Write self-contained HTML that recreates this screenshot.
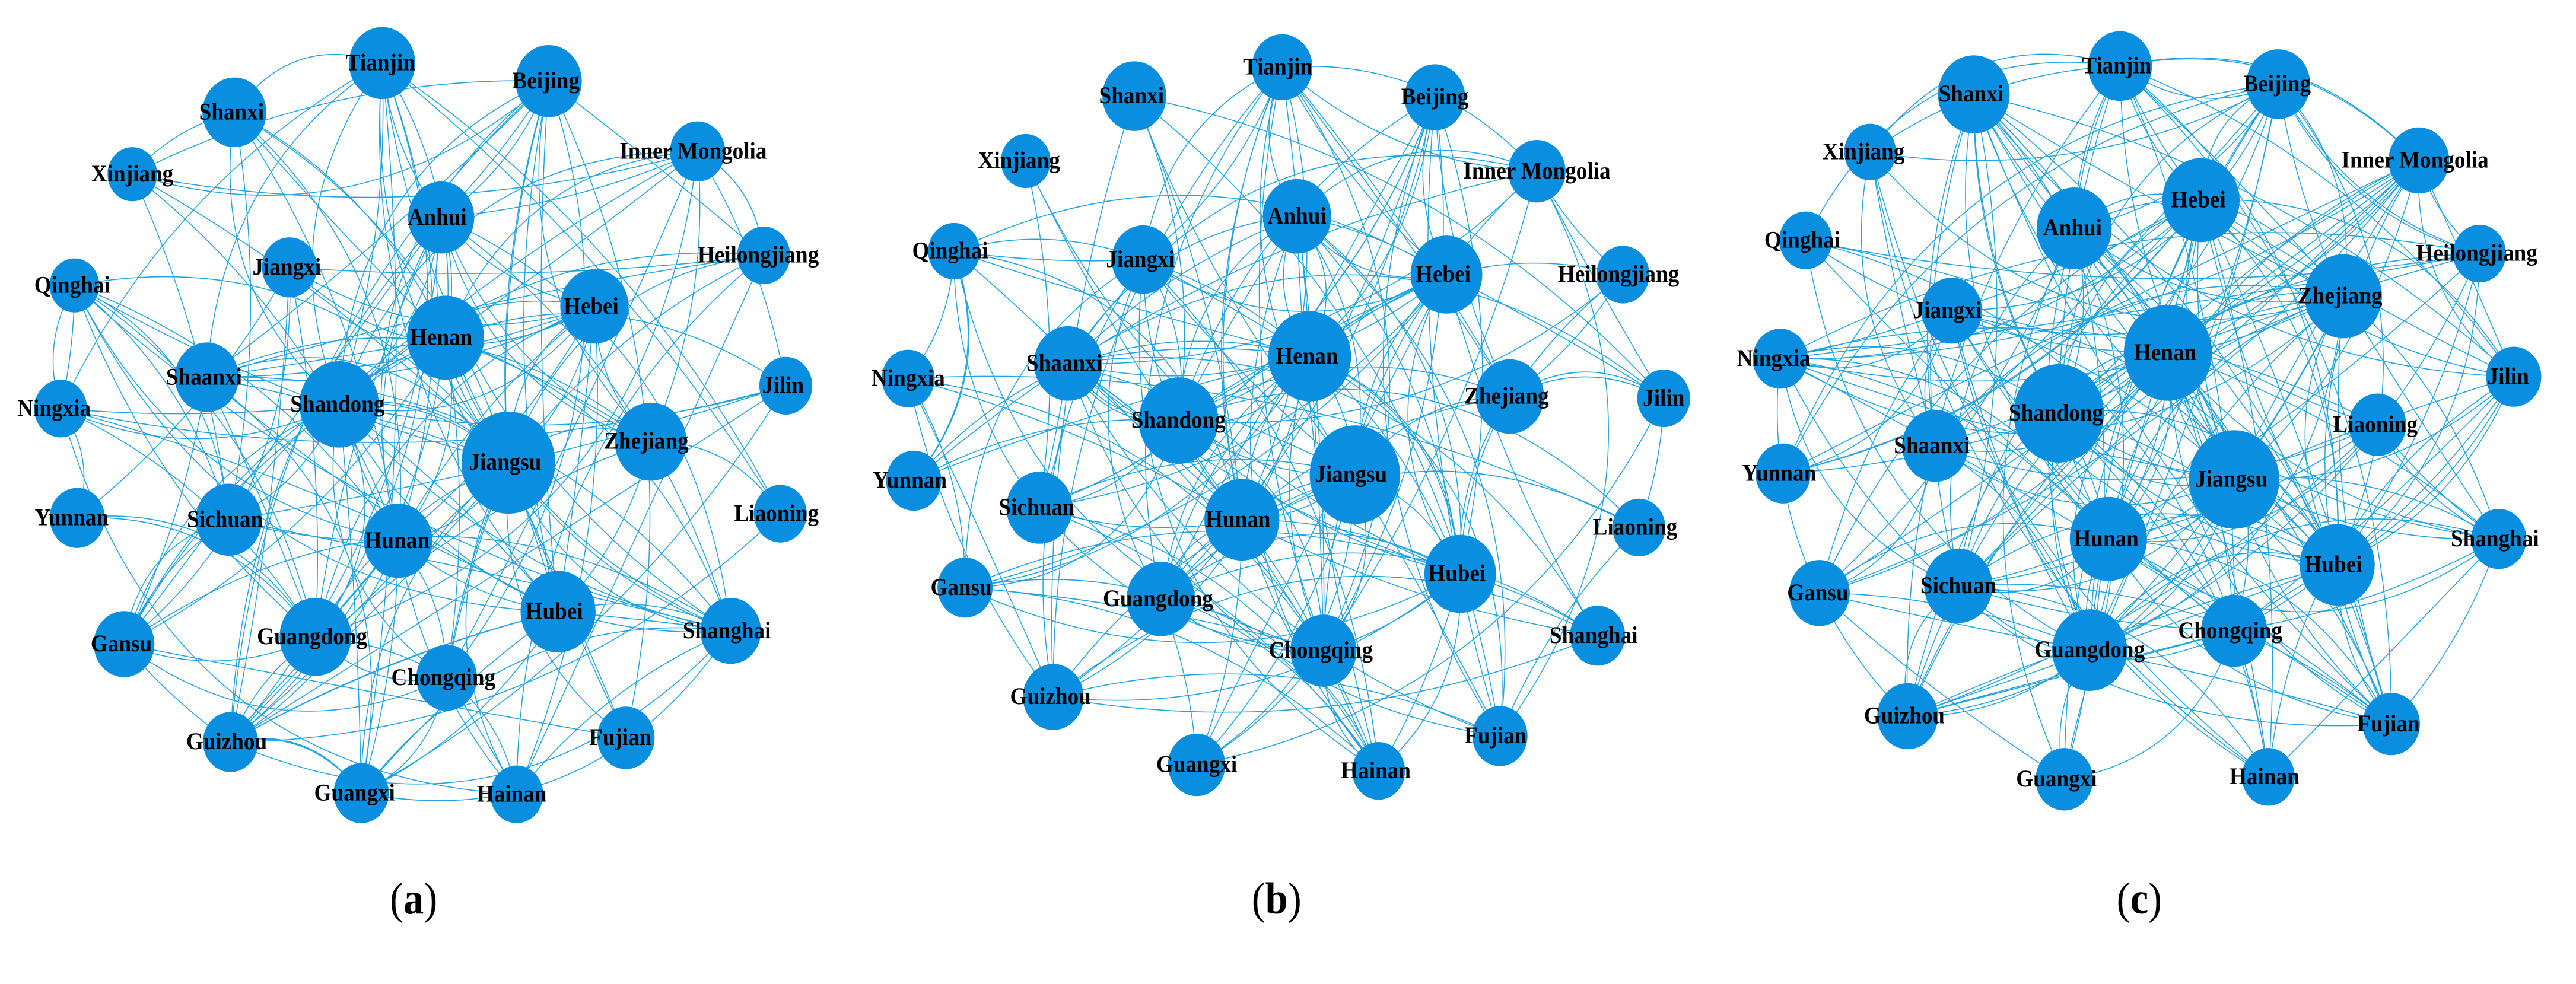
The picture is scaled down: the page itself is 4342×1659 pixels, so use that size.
<!DOCTYPE html>
<html><head><meta charset="utf-8"><style>
html,body{margin:0;padding:0;background:#fff;}
svg{display:block}
.n circle{fill:#0a8ee0}
.t text{font-family:"Liberation Serif",serif;font-weight:bold;font-size:40px;fill:#000;text-anchor:middle}
.lab{font-family:"Liberation Serif",serif;font-size:74px;fill:#000;text-anchor:middle}
.e path{fill:none;stroke:#22a4e2;stroke-width:1.6}
</style></head><body>
<svg id="s" width="4342" height="1659" viewBox="0 0 4342 1659" xmlns="http://www.w3.org/2000/svg">
<rect width="4342" height="1659" fill="#fff"/>
<!-- panel a -->
<g transform="translate(0,0) scale(0.9295,1.013)">
<g class="e" id="ea"></g>
<g class="n">
<circle cx="693" cy="105" r="60"/><circle cx="995" cy="135" r="60"/><circle cx="425" cy="187" r="58"/><circle cx="1265" cy="252" r="50"/><circle cx="240" cy="290" r="45"/><circle cx="800" cy="362" r="60"/><circle cx="1385" cy="425" r="48"/><circle cx="525" cy="445" r="50"/><circle cx="135" cy="475" r="45"/><circle cx="1078" cy="510" r="62"/><circle cx="808" cy="562" r="70"/><circle cx="375" cy="628" r="58"/><circle cx="1425" cy="642" r="48"/><circle cx="110" cy="680" r="48"/><circle cx="615" cy="673" r="72"/><circle cx="1180" cy="735" r="65"/><circle cx="922" cy="770" r="85"/><circle cx="1415" cy="855" r="48"/><circle cx="140" cy="862" r="50"/><circle cx="415" cy="865" r="60"/><circle cx="722" cy="900" r="62"/><circle cx="1012" cy="1018" r="68"/><circle cx="1325" cy="1050" r="55"/><circle cx="225" cy="1072" r="55"/><circle cx="572" cy="1060" r="65"/><circle cx="810" cy="1128" r="55"/><circle cx="418" cy="1235" r="50"/><circle cx="1135" cy="1228" r="52"/><circle cx="655" cy="1320" r="50"/><circle cx="937" cy="1322" r="48"/>
</g>
<g class="t">
<text x="690" y="117">Tianjin</text><text x="990" y="147">Beijing</text><text x="420" y="199">Shanxi</text><text x="1257" y="264">Inner Mongolia</text><text x="240" y="302">Xinjiang</text><text x="793" y="374">Anhui</text><text x="1375" y="437">Heilongjiang</text><text x="520" y="457">Jiangxi</text><text x="131" y="487">Qinghai</text><text x="1072" y="522">Hebei</text><text x="800" y="574">Henan</text><text x="370" y="640">Shaanxi</text><text x="1420" y="654">Jilin</text><text x="98" y="692">Ningxia</text><text x="612" y="685">Shandong</text><text x="1172" y="747">Zhejiang</text><text x="916" y="782">Jiangsu</text><text x="1408" y="867">Liaoning</text><text x="130" y="874">Yunnan</text><text x="408" y="877">Sichuan</text><text x="720" y="912">Hunan</text><text x="1005" y="1030">Hubei</text><text x="1318" y="1062">Shanghai</text><text x="220" y="1084">Gansu</text><text x="566" y="1072">Guangdong</text><text x="804" y="1140">Chongqing</text><text x="411" y="1247">Guizhou</text><text x="1125" y="1240">Fujian</text><text x="643" y="1332">Guangxi</text><text x="928" y="1334">Hainan</text>
</g>
<text class="lab" x="750" y="1520">(<tspan font-weight="bold">a</tspan>)</text>
</g>
<!-- panel b -->
<g transform="translate(1450,0) scale(0.9295,1.013)">
<g class="e" id="eb"></g>
<g class="n">
<circle cx="765" cy="112" r="55"/><circle cx="1042" cy="162" r="55"/><circle cx="497" cy="160" r="58"/><circle cx="1227" cy="285" r="52"/><circle cx="300" cy="268" r="45"/><circle cx="792" cy="360" r="62"/><circle cx="1383" cy="457" r="48"/><circle cx="513" cy="432" r="57"/><circle cx="170" cy="418" r="47"/><circle cx="1063" cy="457" r="65"/><circle cx="815" cy="593" r="75"/><circle cx="377" cy="605" r="62"/><circle cx="1457" cy="663" r="48"/><circle cx="87" cy="630" r="48"/><circle cx="577" cy="700" r="72"/><circle cx="1178" cy="660" r="62"/><circle cx="897" cy="790" r="82"/><circle cx="1412" cy="878" r="48"/><circle cx="97" cy="800" r="50"/><circle cx="325" cy="845" r="60"/><circle cx="692" cy="865" r="68"/><circle cx="1088" cy="955" r="65"/><circle cx="1337" cy="1058" r="50"/><circle cx="190" cy="978" r="50"/><circle cx="545" cy="997" r="62"/><circle cx="840" cy="1083" r="60"/><circle cx="350" cy="1160" r="55"/><circle cx="1160" cy="1225" r="50"/><circle cx="610" cy="1273" r="52"/><circle cx="940" cy="1283" r="48"/>
</g>
<g class="t">
<text x="757" y="124">Tianjin</text><text x="1042" y="174">Beijing</text><text x="492" y="172">Shanxi</text><text x="1227" y="297">Inner Mongolia</text><text x="288" y="280">Xinjiang</text><text x="792" y="372">Anhui</text><text x="1375" y="469">Heilongjiang</text><text x="508" y="444">Jiangxi</text><text x="163" y="430">Qinghai</text><text x="1057" y="469">Hebei</text><text x="810" y="605">Henan</text><text x="370" y="617">Shaanxi</text><text x="1457" y="675">Jilin</text><text x="87" y="642">Ningxia</text><text x="577" y="712">Shandong</text><text x="1172" y="672">Zhejiang</text><text x="890" y="802">Jiangsu</text><text x="1405" y="890">Liaoning</text><text x="90" y="812">Yunnan</text><text x="320" y="857">Sichuan</text><text x="685" y="877">Hunan</text><text x="1082" y="967">Hubei</text><text x="1330" y="1070">Shanghai</text><text x="183" y="990">Gansu</text><text x="540" y="1009">Guangdong</text><text x="835" y="1095">Chongqing</text><text x="345" y="1172">Guizhou</text><text x="1152" y="1237">Fujian</text><text x="610" y="1285">Guangxi</text><text x="935" y="1295">Hainan</text>
</g>
<text class="lab" x="755" y="1520">(<tspan font-weight="bold">b</tspan>)</text>
</g>
<!-- panel c -->
<g transform="translate(2892,0) scale(0.9295,1.013)">
<g class="e" id="ec"></g>
<g class="n">
<circle cx="733" cy="110" r="58"/><circle cx="1020" cy="140" r="58"/><circle cx="468" cy="157" r="65"/><circle cx="1275" cy="267" r="55"/><circle cx="280" cy="253" r="47"/><circle cx="650" cy="380" r="68"/><circle cx="1385" cy="422" r="48"/><circle cx="428" cy="517" r="55"/><circle cx="163" cy="400" r="48"/><circle cx="880" cy="333" r="70"/><circle cx="820" cy="587" r="80"/><circle cx="398" cy="742" r="60"/><circle cx="1447" cy="627" r="50"/><circle cx="117" cy="597" r="50"/><circle cx="622" cy="688" r="82"/><circle cx="1138" cy="493" r="70"/><circle cx="940" cy="798" r="82"/><circle cx="1200" cy="707" r="52"/><circle cx="122" cy="788" r="50"/><circle cx="440" cy="975" r="62"/><circle cx="712" cy="897" r="70"/><circle cx="1127" cy="940" r="68"/><circle cx="1420" cy="897" r="50"/><circle cx="188" cy="987" r="55"/><circle cx="678" cy="1082" r="68"/><circle cx="940" cy="1050" r="60"/><circle cx="348" cy="1192" r="55"/><circle cx="1225" cy="1205" r="52"/><circle cx="632" cy="1297" r="52"/><circle cx="1002" cy="1293" r="48"/>
</g>
<g class="t">
<text x="727" y="122">Tianjin</text><text x="1018" y="152">Beijing</text><text x="463" y="169">Shanxi</text><text x="1268" y="279">Inner Mongolia</text><text x="268" y="265">Xinjiang</text><text x="647" y="392">Anhui</text><text x="1380" y="434">Heilongjiang</text><text x="420" y="529">Jiangxi</text><text x="157" y="412">Qinghai</text><text x="875" y="345">Hebei</text><text x="815" y="599">Henan</text><text x="392" y="754">Shaanxi</text><text x="1437" y="639">Jilin</text><text x="105" y="609">Ningxia</text><text x="617" y="700">Shandong</text><text x="1132" y="505">Zhejiang</text><text x="935" y="810">Jiangsu</text><text x="1196" y="719">Liaoning</text><text x="115" y="800">Yunnan</text><text x="440" y="987">Sichuan</text><text x="708" y="909">Hunan</text><text x="1120" y="952">Hubei</text><text x="1413" y="909">Shanghai</text><text x="185" y="999">Gansu</text><text x="678" y="1094">Guangdong</text><text x="933" y="1062">Chongqing</text><text x="342" y="1204">Guizhou</text><text x="1220" y="1217">Fujian</text><text x="618" y="1309">Guangxi</text><text x="995" y="1305">Hainan</text>
</g>
<text class="lab" x="768" y="1520">(<tspan font-weight="bold">c</tspan>)</text>
</g>
</svg>
<script>
(function(){
var NS="http://www.w3.org/2000/svg";
var seed=12345;function rnd(){seed=(seed*1103515245+12345)%2147483648;return seed/2147483648;}
["ea","eb","ec"].forEach(function(id){
  var g=document.getElementById(id);
  var cs=g.parentNode.querySelectorAll(".n circle");
  var nodes=[];for(var i=0;i<cs.length;i++){nodes.push([+cs[i].getAttribute("cx"),+cs[i].getAttribute("cy"),+cs[i].getAttribute("r")]);}
  var d="";
  for(var a=0;a<nodes.length;a++){for(var b=a+1;b<nodes.length;b++){
    var w=(nodes[a][2]-40)*(nodes[b][2]-40)/900;
    var p=0.13+w*0.7;
    if(rnd()<p){
      var n=1+(rnd()<0.3?1:0);
      for(var k=0;k<n;k++){
      var x1=nodes[a][0],y1=nodes[a][1],x2=nodes[b][0],y2=nodes[b][1];
      var mx=(x1+x2)/2,my=(y1+y2)/2,dx=x2-x1,dy=y2-y1;
      var s=(rnd()-0.5)*0.7;
      var cx=mx-dy*s,cy=my+dx*s;
      d+="M"+x1+" "+y1+"Q"+cx.toFixed(1)+" "+cy.toFixed(1)+" "+x2+" "+y2;}
    }
  }}
  var p=document.createElementNS(NS,"path");p.setAttribute("d",d);g.appendChild(p);
});
})();
</script>
</body></html>
